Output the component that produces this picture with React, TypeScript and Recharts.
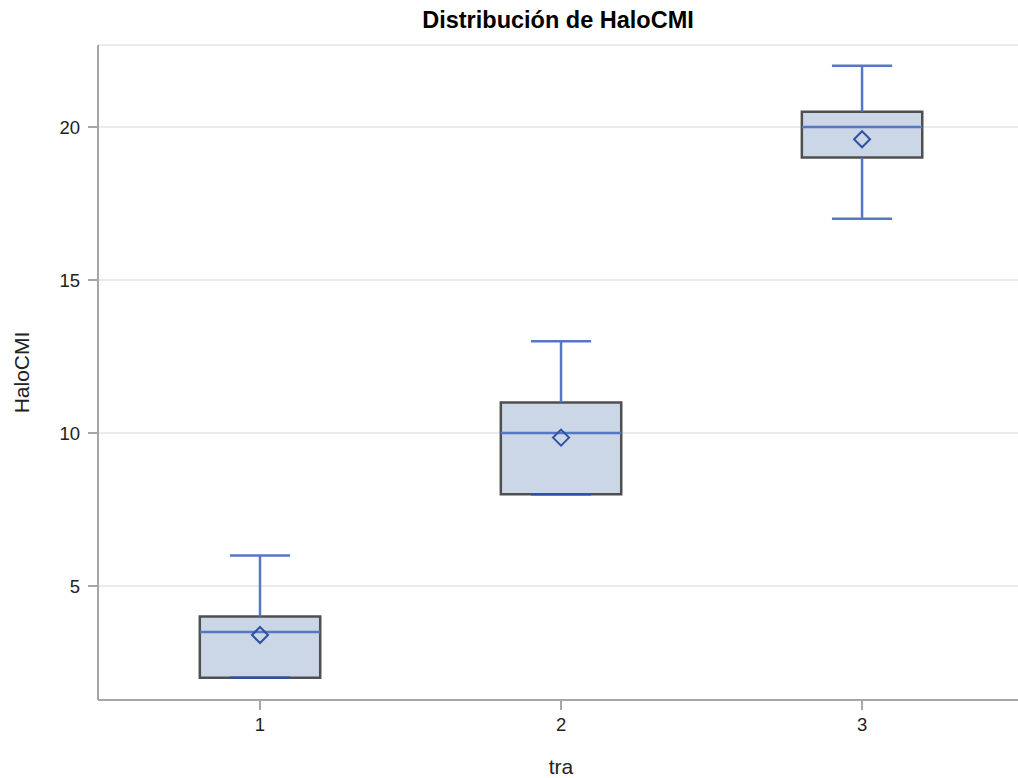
import React from "react";
import {
    ComposedChart,
    XAxis,
    YAxis,
    CartesianGrid,
    ReferenceArea,
    ReferenceLine,
    Scatter,
} from "recharts";

const categories = [1, 2, 3];
const q1 = [2, 8, 19];
const q3 = [4, 11, 20.5];
const medians = [3.5, 10, 20];
const means = [3.4, 9.85, 19.6];
const whiskerLow = [2, 8, 17];
const whiskerHigh = [6, 13, 22];
const yTicks = [5, 10, 15, 20];

const BOX_HALF = 0.2;
const CAP_HALF = 0.1;

const FONT = "'Liberation Sans', Arial, sans-serif";
const AXIS_COLOR = "#a6a6a6";
const WHISKER = "#5677c4";
const MEAN = "#2f51a3";

const meanData = categories.map((c, i) => ({ x: c, y: means[i] }));

const Diamond = (props: any) => {
    const { cx, cy } = props;
    const r = 8;
    return (
        <polygon
            points={`${cx},${cy - r} ${cx + r},${cy} ${cx},${cy + r} ${cx - r},${cy}`}
            fill="none"
            stroke={MEAN}
            strokeWidth={2}
        />
    );
};

const App: React.FC = () => {
    return (
        <div
            style={{
                position: "absolute",
                left: 0,
                top: 0,
                width: 1018,
                height: 778,
                overflow: "hidden",
                background: "#fff",
                fontFamily: FONT,
            }}
        >
            <div
                style={{
                    position: "absolute",
                    top: 7,
                    left: 0,
                    width: 1116,
                    textAlign: "center",
                    fontWeight: "bold",
                    fontSize: 23.5,
                    color: "#000",
                }}
            >
                Distribución de HaloCMI
            </div>
            <ComposedChart
                width={1040}
                height={778}
                margin={{ top: 45, right: 16, bottom: 0, left: 0 }}
            >
                <CartesianGrid vertical={false} stroke="#ebebeb" strokeWidth={2} />
                <XAxis
                    xAxisId="top"
                    orientation="top"
                    type="number"
                    dataKey="x"
                    domain={[0.4618, 3.538]}
                    allowDataOverflow
                    tick={false}
                    tickLine={false}
                    height={0}
                    axisLine={{ stroke: AXIS_COLOR, strokeWidth: 2 }}
                />
                <XAxis
                    type="number"
                    dataKey="x"
                    domain={[0.4618, 3.538]}
                    allowDataOverflow
                    ticks={categories}
                    height={78}
                    tickSize={10}
                    tickMargin={8}
                    axisLine={{ stroke: AXIS_COLOR, strokeWidth: 2 }}
                    tickLine={{ stroke: AXIS_COLOR, strokeWidth: 2 }}
                    tick={{ fill: "#222", fontSize: 18.5, fontFamily: FONT }}
                    label={{
                        value: "tra",
                        position: "insideBottom",
                        offset: 4,
                        fill: "#222",
                        fontSize: 21,
                        fontFamily: FONT,
                    }}
                />
                <YAxis
                    type="number"
                    domain={[1.275, 22.68]}
                    allowDataOverflow
                    ticks={yTicks}
                    width={98}
                    tickSize={10}
                    tickMargin={8}
                    axisLine={{ stroke: AXIS_COLOR, strokeWidth: 2 }}
                    tickLine={{ stroke: AXIS_COLOR, strokeWidth: 2 }}
                    tick={{ fill: "#222", fontSize: 18.5, fontFamily: FONT }}
                    label={{
                        value: "HaloCMI",
                        angle: -90,
                        position: "insideLeft",
                        offset: 22,
                        fill: "#222",
                        fontSize: 21,
                        fontFamily: FONT,
                        style: { textAnchor: "middle" },
                    }}
                />

                {categories.map((c, i) => (
                    <ReferenceLine
                        key={`wl-${c}`}
                        segment={[
                            { x: c, y: whiskerLow[i] },
                            { x: c, y: q1[i] },
                        ]}
                        stroke={WHISKER}
                        strokeWidth={2.5}
                    />
                ))}
                {categories.map((c, i) => (
                    <ReferenceLine
                        key={`wh-${c}`}
                        segment={[
                            { x: c, y: q3[i] },
                            { x: c, y: whiskerHigh[i] },
                        ]}
                        stroke={WHISKER}
                        strokeWidth={2.5}
                    />
                ))}
                {categories.map((c, i) => (
                    <ReferenceArea
                        key={`box-${c}`}
                        x1={c - BOX_HALF}
                        x2={c + BOX_HALF}
                        y1={q1[i]}
                        y2={q3[i]}
                        fill="#cbd6e6"
                        fillOpacity={1}
                        stroke="#4f4f4f"
                        strokeWidth={2.5}
                    />
                ))}
                {categories.map((c, i) => (
                    <ReferenceLine
                        key={`med-${c}`}
                        segment={[
                            { x: c - BOX_HALF, y: medians[i] },
                            { x: c + BOX_HALF, y: medians[i] },
                        ]}
                        stroke={WHISKER}
                        strokeWidth={2.5}
                    />
                ))}
                {categories.map((c, i) => (
                    <ReferenceLine
                        key={`capl-${c}`}
                        segment={[
                            { x: c - CAP_HALF, y: whiskerLow[i] },
                            { x: c + CAP_HALF, y: whiskerLow[i] },
                        ]}
                        stroke={whiskerLow[i] === q1[i] ? MEAN : WHISKER}
                        strokeWidth={2.5}
                    />
                ))}
                {categories.map((c, i) => (
                    <ReferenceLine
                        key={`caph-${c}`}
                        segment={[
                            { x: c - CAP_HALF, y: whiskerHigh[i] },
                            { x: c + CAP_HALF, y: whiskerHigh[i] },
                        ]}
                        stroke={WHISKER}
                        strokeWidth={2.5}
                    />
                ))}
                <Scatter data={meanData} dataKey="y" shape={<Diamond />} isAnimationActive={false} />
            </ComposedChart>
        </div>
    );
};

export default App;
